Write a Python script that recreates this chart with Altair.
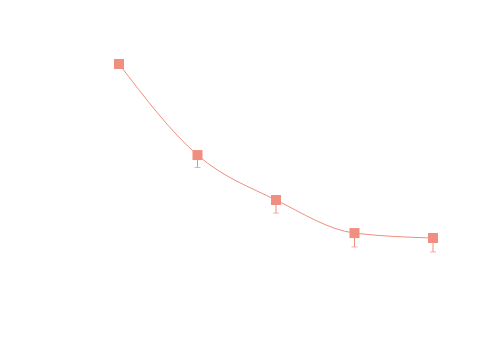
import altair as alt
import pandas as pd

xs = [1, 2, 3, 4, 5]
means = [9.0, 5.86, 4.31, 3.17, 3.0]
lows = [8.9, 5.43, 3.86, 2.69, 2.52]

color = "#f08e7f"

df = pd.DataFrame({"x": xs, "y": means, "low": lows})

xsc = alt.Scale(domain=[1, 5], nice=False, zero=False)
ysc = alt.Scale(domain=[3, 9], nice=False, zero=False)

base = alt.Chart(df)

line = base.mark_line(interpolate="monotone", color=color, strokeWidth=1).encode(
    x=alt.X("x:Q", scale=xsc, axis=None),
    y=alt.Y("y:Q", scale=ysc, axis=None),
)
rule = base.mark_rule(color=color, strokeWidth=1).encode(
    x=alt.X("x:Q", scale=xsc, axis=None),
    y=alt.Y("y:Q", scale=ysc, axis=None),
    y2="low:Q",
)
cap = base.mark_tick(color=color, orient="horizontal", size=6, thickness=1).encode(
    x=alt.X("x:Q", scale=xsc, axis=None),
    y=alt.Y("low:Q", scale=ysc, axis=None),
)
pts = base.mark_square(color=color, size=100, opacity=1).encode(
    x=alt.X("x:Q", scale=xsc, axis=None),
    y=alt.Y("y:Q", scale=ysc, axis=None),
)

chart = alt.layer(line, rule, cap, pts).properties(
    width=314,
    height=174,
    padding={"left": 111, "top": 56, "right": 59, "bottom": 114},
    autosize=alt.AutoSizeParams(type="none"),
).configure_view(stroke=None)

chart.save("out.html", embed_options={"renderer": "svg", "actions": False})
